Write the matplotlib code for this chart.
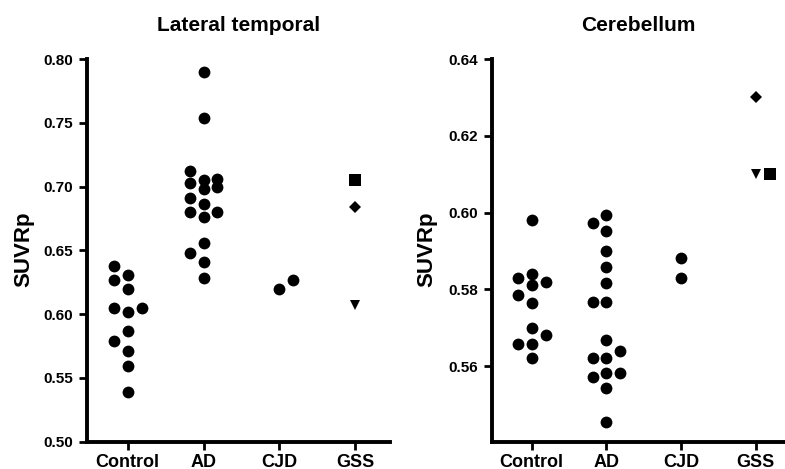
import numpy as np
import matplotlib
matplotlib.use("Agg")
import matplotlib.pyplot as plt

GROUPS = ["Control", "AD", "CJD", "GSS"]

# Lateral temporal SUVRp per group
LT_CONTROL = [0.627, 0.638, 0.631, 0.620, 0.605, 0.602, 0.605, 0.587, 0.579, 0.571, 0.559, 0.539]
LT_AD = [0.790, 0.754, 0.712, 0.705, 0.700, 0.703, 0.706, 0.698, 0.691, 0.686,
         0.680, 0.676, 0.680, 0.656, 0.648, 0.641, 0.628]
LT_CJD = [0.620, 0.627]
LT_GSS = [0.607, 0.705, 0.684]

# Cerebellum SUVRp per group
CB_CONTROL = [0.598, 0.583, 0.584, 0.582, 0.581, 0.5785, 0.5765, 0.570, 0.568, 0.5657, 0.5657, 0.562]
CB_AD = [0.5973, 0.5993, 0.5951, 0.590, 0.5858, 0.5817, 0.5766, 0.5766, 0.5668, 0.564,
         0.562, 0.562, 0.5572, 0.5583, 0.5583, 0.5544, 0.5455]
CB_CJD = [0.5882, 0.583]
CB_GSS = [0.610, 0.610, 0.630]

# GSS cases are drawn with one symbol each (same order as the GSS lists)
GSS_MARKERS = ["v", "s", "D"]
GSS_SIZES = [6.5, 8.8, 6.2]
# side a colliding point moves to first, per group
SWARM_SIDE = [-1, -1, 1, 1]

FIG_W, FIG_H = 785, 469

plt.rcParams["font.family"] = ["Liberation Sans", "DejaVu Sans"]
plt.rcParams["font.weight"] = "bold"


def px_rect(x0, x1, y_top, y_bot):
    return [x0 / FIG_W, 1 - y_bot / FIG_H, (x1 - x0) / FIG_W, (y_bot - y_top) / FIG_H]


def swarm_offsets(ax, values, side, step_px=13.8, diam_px=14.0):
    """Prism-like column layout: 0, then one side, then the other."""
    values = np.asarray(values, dtype=float)
    y_px = ax.transData.transform(np.column_stack([np.ones(len(values)), values]))[:, 1]
    order = np.argsort(values, kind="stable")
    cols = np.zeros(len(values))
    placed = []
    for i in order:
        best, best_gap = 0, -1.0
        for c in (0, side, -side):
            gap = min((np.hypot((c - pc) * step_px, y_px[i] - py) for pc, py in placed),
                      default=np.inf)
            if gap >= diam_px:
                best = c
                break
            if gap > best_gap:
                best, best_gap = c, gap
        cols[i] = best
        placed.append((best, y_px[i]))
    x0, x1 = ax.transData.transform([(0, 0), (1, 0)])[:, 0]
    return cols * step_px / (x1 - x0)


def style_axes(ax, ylim, yticks, xlim):
    ax.set_xlim(*xlim)
    ax.set_ylim(*ylim)
    ax.set_yticks(yticks)
    ax.set_yticklabels([f"{t:.2f}" for t in yticks])
    ax.set_xticks(range(1, len(GROUPS) + 1))
    ax.set_xticklabels(GROUPS)
    for side in ("top", "right"):
        ax.spines[side].set_visible(False)
    for side in ("left", "bottom"):
        ax.spines[side].set_linewidth(2.8)
    ax.tick_params(axis="both", direction="out", length=6, width=2)
    ax.tick_params(axis="y", labelsize=11, pad=4)
    ax.tick_params(axis="x", labelsize=13, pad=2.5)


def draw_panel(ax, groups, gss):
    for k, vals in enumerate(groups):
        dx = swarm_offsets(ax, vals, SWARM_SIDE[k])
        ax.plot(k + 1 + dx, vals, "o", color="black", ms=8.5, mew=0, clip_on=False)
    dx = swarm_offsets(ax, gss, SWARM_SIDE[3])
    for val, off, mk, ms in zip(gss, dx, GSS_MARKERS, GSS_SIZES):
        ax.plot(4 + off, val, mk, color="black", ms=ms, mew=0, clip_on=False)


fig = plt.figure(figsize=(FIG_W / 100, FIG_H / 100), dpi=100)

ax1 = fig.add_axes(px_rect(87, 390, 59, 441.7))
style_axes(ax1, (0.50, 0.80), np.arange(0.50, 0.801, 0.05), (0.463, 4.46))
draw_panel(ax1, [LT_CONTROL, LT_AD, LT_CJD], LT_GSS)

ax2 = fig.add_axes(px_rect(491.7, 785, 59, 441.7))
style_axes(ax2, (0.5403, 0.64), np.arange(0.56, 0.641, 0.02), (0.4645, 4.39))
draw_panel(ax2, [CB_CONTROL, CB_AD, CB_CJD], CB_GSS)

for ax, title, lab_x in ((ax1, "Lateral temporal", 23.5), (ax2, "Cerebellum", 426.5)):
    pos = ax.get_position()
    fig.text(pos.x0 + pos.width / 2, 1 - 31 / FIG_H, title, ha="center", va="baseline",
             fontsize=15, fontweight="bold")
    fig.text(lab_x / FIG_W, 1 - 249 / FIG_H, "SUVRp", rotation=90, ha="center", va="center",
             fontsize=16, fontweight="bold")

fig.savefig("out.png", dpi=100, facecolor="white")
